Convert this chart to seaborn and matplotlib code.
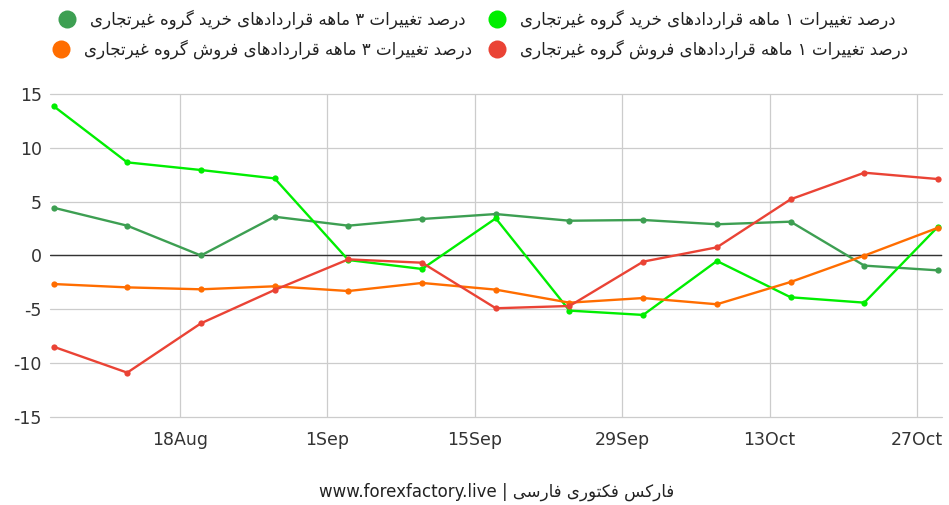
import re
import matplotlib
matplotlib.use("Agg")
import matplotlib.pyplot as plt
import matplotlib.dates as mdates
from matplotlib.lines import Line2D
from matplotlib.ticker import FuncFormatter
from matplotlib import font_manager, ft2font
import pandas as pd
import seaborn as sns

# weekly COT readings (Tuesdays)
dates = pd.date_range("2019-08-06", periods=13, freq="7D")
buy_1m = [13.88, 8.65, 7.94, 7.16, -0.42, -1.25, 3.45, -5.12, -5.52, -0.51, -3.88, -4.38, 2.68]
buy_3m = [4.44, 2.77, 0.0, 3.60, 2.77, 3.39, 3.85, 3.23, 3.30, 2.90, 3.14, -0.94, -1.38]
sell_1m = [-8.47, -10.88, -6.30, -3.20, -0.36, -0.67, -4.90, -4.69, -0.57, 0.76, 5.22, 7.69, 7.10]
sell_3m = [-2.65, -2.96, -3.14, -2.86, -3.30, -2.55, -3.17, -4.38, -3.95, -4.53, -2.46, -0.01, 2.58]

label_buy_1m = "درصد تغییرات ۱ ماهه قراردادهای خرید گروه غیرتجاری"
label_buy_3m = "درصد تغییرات ۳ ماهه قراردادهای خرید گروه غیرتجاری"
label_sell_1m = "درصد تغییرات ۱ ماهه قراردادهای فروش گروه غیرتجاری"
label_sell_3m = "درصد تغییرات ۳ ماهه قراردادهای فروش گروه غیرتجاری"
caption = "فارکس فکتوری فارسی | www.forexfactory.live"

tick_dates = pd.to_datetime(["2019-08-18", "2019-09-01", "2019-09-15",
                             "2019-09-29", "2019-10-13", "2019-10-27"])
y_ticks = [-15, -10, -5, 0, 5, 10, 15]

colors = {"buy_1m": "#00ee00", "buy_3m": "#3d9f52",
          "sell_1m": "#ea4335", "sell_3m": "#ff6d00"}

# --- tiny arabic-script shaper (matplotlib has no complex text layout) ---
# letter: (isolated, final, initial, medial)
FORMS = {
    "\u0627": ("\uFE8D", "\uFE8E", None, None),
    "\u062F": ("\uFEA9", "\uFEAA", None, None),
    "\u0631": ("\uFEAD", "\uFEAE", None, None),
    "\u0648": ("\uFEED", "\uFEEE", None, None),
    "\u0628": ("\uFE8F", "\uFE90", "\uFE91", "\uFE92"),
    "\u062A": ("\uFE95", "\uFE96", "\uFE97", "\uFE98"),
    "\u062C": ("\uFE9D", "\uFE9E", "\uFE9F", "\uFEA0"),
    "\u062E": ("\uFEA5", "\uFEA6", "\uFEA7", "\uFEA8"),
    "\u0633": ("\uFEB1", "\uFEB2", "\uFEB3", "\uFEB4"),
    "\u0634": ("\uFEB5", "\uFEB6", "\uFEB7", "\uFEB8"),
    "\u0635": ("\uFEB9", "\uFEBA", "\uFEBB", "\uFEBC"),
    "\u063A": ("\uFECD", "\uFECE", "\uFECF", "\uFED0"),
    "\u0641": ("\uFED1", "\uFED2", "\uFED3", "\uFED4"),
    "\u0642": ("\uFED5", "\uFED6", "\uFED7", "\uFED8"),
    "\u0645": ("\uFEE1", "\uFEE2", "\uFEE3", "\uFEE4"),
    "\u0647": ("\uFEE9", "\uFEEA", "\uFEEB", "\uFEEC"),
    "\u06A9": ("\uFB8E", "\uFB8F", "\uFB90", "\uFB91"),
    "\u06AF": ("\uFB92", "\uFB93", "\uFB94", "\uFB95"),
    "\u06CC": ("\uFBFC", "\uFBFD", "\uFBFE", "\uFBFF"),
}
FALLBACK = {
    "\u06A9": ("\uFED9", "\uFEDA", "\uFEDB", "\uFEDC"),
    "\u06AF": ("\uFED9", "\uFEDA", "\uFEDB", "\uFEDC"),
    "\u06CC": ("\uFEEF", "\uFEF0", "\uFEF3", "\uFEF4"),
    "\u06F1": "\u0661",
    "\u06F3": "\u0663",
}
face = ft2font.FT2Font(font_manager.findfont(font_manager.FontProperties(family="DejaVu Sans")))


def has_glyph(c):
    return face.get_char_index(ord(c)) != 0


def shape(s):
    out = []
    for i, ch in enumerate(s):
        if ch not in FORMS:
            if not has_glyph(ch) and ch in FALLBACK:
                ch = FALLBACK[ch]
            out.append(ch)
            continue
        prev = s[i - 1] if i > 0 else None
        nxt = s[i + 1] if i + 1 < len(s) else None
        join_prev = prev in FORMS and FORMS[prev][2] is not None
        join_next = nxt in FORMS and FORMS[ch][2] is not None
        k = 3 if (join_prev and join_next) else 1 if join_prev else 2 if join_next else 0
        form = FORMS[ch][k]
        if not has_glyph(form) and ch in FALLBACK:
            form = FALLBACK[ch][k]
        out.append(form)
    return "".join(out)


def visual(s):
    runs = re.findall(r"[A-Za-z0-9.]+|[^A-Za-z0-9.]+", s)
    out = []
    for r in reversed(runs):
        out.append(r if re.match(r"[A-Za-z0-9.]", r) else shape(r)[::-1])
    return "".join(out)


df = pd.concat([
    pd.DataFrame({"date": dates, "value": buy_3m, "series": "buy_3m"}),
    pd.DataFrame({"date": dates, "value": buy_1m, "series": "buy_1m"}),
    pd.DataFrame({"date": dates, "value": sell_3m, "series": "sell_3m"}),
    pd.DataFrame({"date": dates, "value": sell_1m, "series": "sell_1m"}),
])

sns.set_style("white")
plt.rcParams["font.family"] = ["DejaVu Sans"]
plt.rcParams["axes.unicode_minus"] = False

fig = plt.figure(figsize=(9.49, 5.05), dpi=100)
ax = fig.add_axes([50 / 949, 1 - 417 / 505, 892 / 949, 323 / 505])

ax.axhline(0, color="#333333", linewidth=1.0, zorder=1)
sns.lineplot(data=df, x="date", y="value", hue="series", palette=colors,
             marker="o", markersize=4.5, markeredgewidth=0, linewidth=1.7,
             legend=False, ax=ax, zorder=3)

ax.set_xlim(dates[0] - pd.Timedelta(hours=8), dates[-1] + pd.Timedelta(hours=9))
ax.set_ylim(-15, 15)
ax.set_yticks(y_ticks)
ax.set_xticks(tick_dates)
ax.xaxis.set_major_formatter(FuncFormatter(
    lambda v, p: f"{mdates.num2date(v).day}{mdates.num2date(v):%b}"))
ax.grid(True, color="#cccccc", linewidth=0.9)
ax.set_axisbelow(True)
for gl in ax.get_ygridlines():
    gl.set_clip_on(False)
for s in ax.spines.values():
    s.set_visible(False)
ax.tick_params(length=0, labelsize=12.5, colors="#333333")
ax.tick_params(axis="x", pad=10)
ax.tick_params(axis="y", pad=6)
ax.set_xlabel("")
ax.set_ylabel("")

# legend, laid out like the original two-row header
legend_items = [(67, 19, "buy_3m", label_buy_3m), (61, 49, "sell_3m", label_sell_3m),
                (497, 19, "buy_1m", label_buy_1m), (497, 49, "sell_1m", label_sell_1m)]
for px, py, key, text in legend_items:
    fx, fy = px / 949, 1 - py / 505
    fig.add_artist(Line2D([fx], [fy], marker="o", markersize=13, markeredgewidth=0,
                          color=colors[key], transform=fig.transFigure))
    fig.text(fx + 23 / 949, fy, visual(text), ha="left", va="center",
             fontsize=12, color="#222222")

fig.text(497 / 949, 1 - 492 / 505, visual(caption), ha="center", va="center",
         fontsize=12, color="#222222")

fig.savefig("out.png", dpi=100)
